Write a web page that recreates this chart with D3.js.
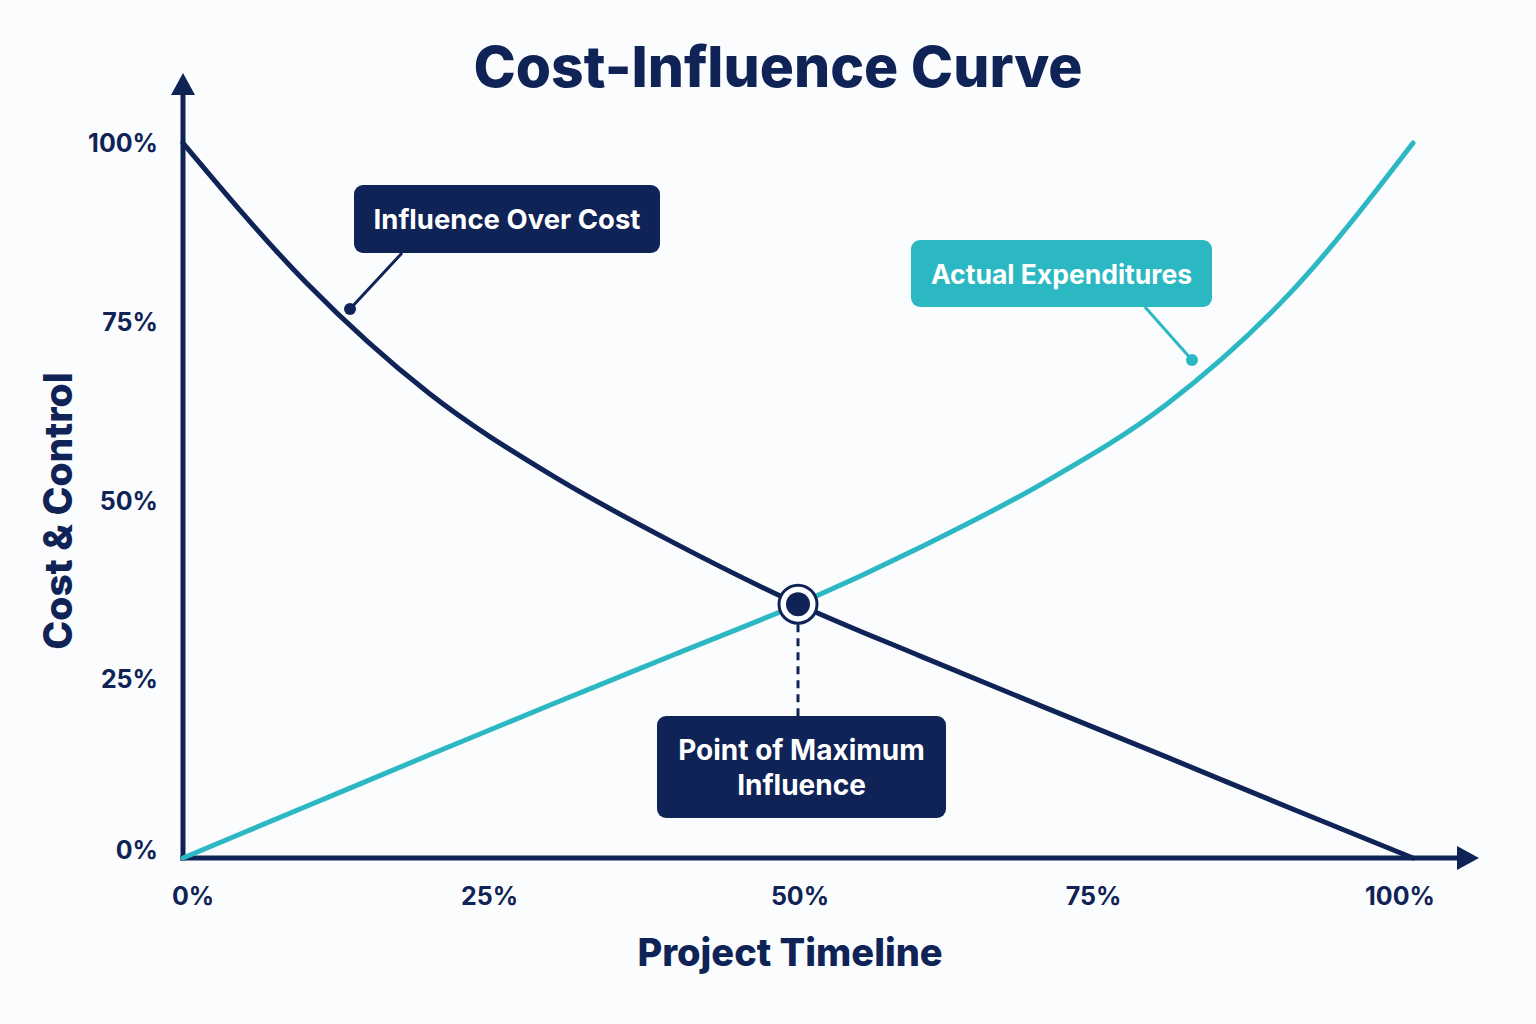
<!DOCTYPE html>
<html>
<head>
<meta charset="utf-8">
<script src="https://cdn.jsdelivr.net/npm/d3@7/dist/d3.min.js"></script>
<style>
  html, body { margin: 0; padding: 0; background: #fbfcfd; }
  svg { display: block; font-family: Inter, "Noto Sans", sans-serif; }
</style>
</head>
<body>
<svg id="chart"></svg>
<script>
const width = 1536;
const height = 1024;

const navy = "#0f2356";
const teal = "#2cb8c2";

// Data (percent of timeline -> percent)
const timeline = [0, 10, 20, 30, 40, 50, 60, 70, 80, 90, 100];
const influence = [100, 80.5, 65, 53.5, 44, 35.5, 28.2, 21.1, 14.1, 7, 0];
const expenditures = [0, 7.2, 14.4, 21.5, 28.5, 35.5, 43.5, 52.5, 63.5, 79, 100];
const xTicks = [0, 25, 50, 75, 100];
const yTicks = [0, 25, 50, 75, 100];
const crossing = { x: 50, y: 35.5 };

var svg = d3.select("#chart")
    .attr("width", width)
    .attr("height", height)
    .attr("viewBox", `0 0 ${width} ${height}`);

svg.append("rect").attr("width", width).attr("height", height).attr("fill", "#fbfcfd");

var x = d3.scaleLinear().domain([0, 100]).range([183, 1413]);
var y = d3.scaleLinear().domain([0, 100]).range([858, 143]);

// small nudges so the tick labels sit where the reference has them
const xLabelNudge = { 0: 10, 25: -1, 50: 2, 75: -12, 100: -13 };

// Title
svg.append("text")
    .attr("x", 778).attr("y", 87)
    .attr("text-anchor", "middle")
    .attr("font-size", 57).attr("font-weight", 800)
    .attr("fill", navy)
    .text("Cost-Influence Curve");

// Axes with arrows
svg.append("line")
    .attr("x1", x(0)).attr("y1", y(0) + 2.5)
    .attr("x2", x(0)).attr("y2", 92)
    .attr("stroke", navy).attr("stroke-width", 5);
svg.append("path")
    .attr("d", `M${x(0) - 12},95 L${x(0)},73 L${x(0) + 12},95 Z`)
    .attr("fill", navy);

svg.append("line")
    .attr("x1", x(0) - 2.5).attr("y1", y(0))
    .attr("x2", 1460).attr("y2", y(0))
    .attr("stroke", navy).attr("stroke-width", 5);
svg.append("path")
    .attr("d", `M1457,${y(0) - 12} L1479,${y(0)} L1457,${y(0) + 12} Z`)
    .attr("fill", navy);

// Tick labels
svg.append("g")
    .selectAll("text")
    .data(yTicks)
    .enter().append("text")
    .attr("x", 158)
    .attr("y", d => y(d) + (d === 0 ? 1 : 9))
    .attr("text-anchor", "end")
    .attr("font-size", 25).attr("font-weight", 700)
    .attr("fill", navy)
    .text(d => d + "%");

svg.append("g")
    .selectAll("text")
    .data(xTicks)
    .enter().append("text")
    .attr("x", d => x(d) + xLabelNudge[d])
    .attr("y", 905)
    .attr("text-anchor", "middle")
    .attr("font-size", 25).attr("font-weight", 700)
    .attr("fill", navy)
    .text(d => d + "%");

// Axis titles
svg.append("text")
    .attr("transform", "translate(72,511) rotate(-90)")
    .attr("text-anchor", "middle")
    .attr("font-size", 39).attr("font-weight", 800)
    .attr("fill", navy)
    .text("Cost & Control");

svg.append("text")
    .attr("x", 790).attr("y", 966)
    .attr("text-anchor", "middle")
    .attr("font-size", 38).attr("font-weight", 800)
    .attr("fill", navy)
    .text("Project Timeline");

// Curves
var line = d3.line()
    .x(d => x(d[0]))
    .y(d => y(d[1]))
    .curve(d3.curveMonotoneX);

svg.append("path")
    .datum(timeline.map((t, i) => [t, expenditures[i]]))
    .attr("d", line)
    .attr("fill", "none")
    .attr("stroke", teal).attr("stroke-width", 5)
    .attr("stroke-linecap", "round");

svg.append("path")
    .datum(timeline.map((t, i) => [t, influence[i]]))
    .attr("d", line)
    .attr("fill", "none")
    .attr("stroke", navy).attr("stroke-width", 5)
    .attr("stroke-linecap", "round");

// Crossing marker + dashed drop line
svg.append("line")
    .attr("x1", x(crossing.x)).attr("y1", y(crossing.y) + 20)
    .attr("x2", x(crossing.x)).attr("y2", 716)
    .attr("stroke", navy).attr("stroke-width", 3)
    .attr("stroke-dasharray", "8,6");
svg.append("circle")
    .attr("cx", x(crossing.x)).attr("cy", y(crossing.y)).attr("r", 19)
    .attr("fill", "#ffffff").attr("stroke", navy).attr("stroke-width", 3);
svg.append("circle")
    .attr("cx", x(crossing.x)).attr("cy", y(crossing.y)).attr("r", 12)
    .attr("fill", navy);

// Callouts
function callout(box, color, lines, size, leader) {
    var g = svg.append("g");
    if (leader) {
        g.append("line")
            .attr("x1", leader[0]).attr("y1", leader[1])
            .attr("x2", leader[2]).attr("y2", leader[3])
            .attr("stroke", color).attr("stroke-width", 3);
        g.append("circle")
            .attr("cx", leader[2]).attr("cy", leader[3]).attr("r", 6)
            .attr("fill", color);
    }
    g.append("rect")
        .attr("x", box[0]).attr("y", box[1])
        .attr("width", box[2]).attr("height", box[3])
        .attr("rx", 9)
        .attr("fill", color);
    var cx = box[0] + box[2] / 2;
    var cy = box[1] + box[3] / 2;
    var lh = 35;
    lines.forEach((t, i) => {
        g.append("text")
            .attr("x", cx)
            .attr("y", cy + (i - (lines.length - 1) / 2) * lh + 10)
            .attr("text-anchor", "middle")
            .attr("font-size", size).attr("font-weight", 700)
            .attr("fill", "#ffffff")
            .text(t);
    });
}

callout([354, 185, 306, 68], navy, ["Influence Over Cost"], 27.5, [402, 253, 350, 309]);
callout([911, 240, 301, 67], teal, ["Actual Expenditures"], 26.5, [1145, 307, 1192, 360]);
callout([657, 716, 289, 102], navy, ["Point of Maximum", "Influence"], 28, null);
</script>
</body>
</html>
